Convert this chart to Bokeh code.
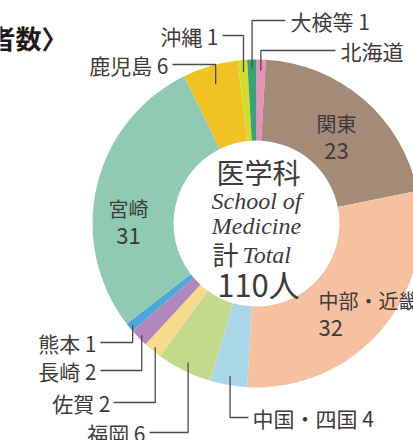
import numpy as np
from bokeh.plotting import figure
from bokeh.models import Range1d, ColumnDataSource
from bokeh.core.properties import value
from bokeh.embed import file_html
from bokeh.resources import INLINE

# ---- data ----
regions = ["北海道", "関東", "中部・近畿", "中国・四国", "福岡", "佐賀", "長崎", "熊本",
           "宮崎", "鹿児島", "沖縄", "大検等"]
counts = [1, 23, 32, 4, 6, 2, 2, 1, 31, 6, 1, 1]
colors = ["#EA8FBA", "#A38B78", "#F5C1A0", "#A9D7E8", "#C3DA8E", "#F8DA8C", "#B088BD",
          "#4EA6D9", "#90CAB3", "#F0C224", "#D3DC2D", "#3AA274"]
center_title = "医学科"
center_en1 = "School of"
center_en2 = "Medicine"
total_jp = "計"
total_en = "Total"
total_unit = "人"
title_text = "者数〉"

W, H = 413, 440
CX, CY = 256, 223          # pixel centre (y downwards)
R_OUT, R_IN = 164, 83
INK = "#3e3a39"
LINE = "#4a4a4a"
JP = value("Noto Sans CJK JP")
SERIF = value("Liberation Serif")


def Y(py):
    return H - py


total = sum(counts)
frac = np.array(counts) / total
cum = np.concatenate([[0], np.cumsum(frac)]) * 360.0   # clockwise from top, degrees
th1, th2 = cum[:-1], cum[1:]
mid = (th1 + th2) / 2

src = ColumnDataSource(dict(
    start=np.radians(90 - th1), end=np.radians(90 - th2), color=colors, region=regions,
))

p = figure(width=W, height=H, x_range=Range1d(0, W), y_range=Range1d(0, H),
           x_axis_type=None, y_axis_type=None, output_backend="svg",
           toolbar_location=None, min_border=0, outline_line_color=None,
           background_fill_color="white", border_fill_color="white")
p.grid.visible = False

p.annular_wedge(x=CX, y=Y(CY), inner_radius=R_IN, outer_radius=R_OUT,
                start_angle="start", end_angle="end", direction="clock",
                fill_color="color", line_color=None, source=src)

# ---- leader-line labels: (region index, anchor radius, label y, horizontal end x, text x, align) ----
leaders = [
    (0, 153, 50, 335, 340, "left"),
    (11, 155, 20, 285, 290, "left"),
    (10, 152, 35, 222, 218, "right"),
    (9, 145, 64, 172, 168, "right"),
    (7, 160, 342, 100, 96, "right"),
    (6, 160, 370, 100, 96, "right"),
    (5, 160, 402, 113, 110, "right"),
    (4, 155, 432, 149, 145, "right"),
    (3, 155, 417, 248, 252, "left"),
]
for idx, r, ly, hx, tx, align in leaders:
    a = np.radians(mid[idx])
    ax = CX + r * np.sin(a)
    ay = CY - r * np.cos(a)
    p.line(x=[ax, ax, hx], y=[Y(ay), Y(ly), Y(ly)], line_color=LINE, line_width=1.3)
    label = regions[idx] if regions[idx] == "北海道" else f"{regions[idx]} {counts[idx]}"
    p.text(x=[tx], y=[Y(ly)], text=[label], text_font=JP, text_font_size="21px",
           text_color=INK, text_align=align, text_baseline="middle")

# ---- in-slice labels: (index, x, y, align) ----
inside = [(1, 336, 123, "center"), (2, 318, 300, "left"), (8, 128, 208, "center")]
for idx, x, y, align in inside:
    p.text(x=[x], y=[Y(y)], text=[regions[idx]], text_font=JP, text_font_size="20px",
           text_color=INK, text_align=align, text_baseline="middle")
    p.text(x=[x], y=[Y(y + 27)], text=[str(counts[idx])], text_font=JP, text_font_size="22px",
           text_color=INK, text_align=align, text_baseline="middle")

# ---- centre text ----
p.text(x=[CX + 2], y=[Y(171)], text=[center_title], text_font=JP, text_font_size="28px",
       text_color=INK, text_align="center", text_baseline="middle")
p.text(x=[CX], y=[Y(200)], text=[center_en1], text_font=SERIF, text_font_size="24px",
       text_font_style="italic", text_color=INK, text_align="center", text_baseline="middle")
p.text(x=[CX], y=[Y(225)], text=[center_en2], text_font=SERIF, text_font_size="24px",
       text_font_style="italic", text_color=INK, text_align="center", text_baseline="middle")
p.text(x=[238], y=[Y(253)], text=[total_jp], text_font=JP, text_font_size="26px",
       text_color=INK, text_align="right", text_baseline="middle")
p.text(x=[242], y=[Y(254)], text=[total_en], text_font=SERIF, text_font_size="24px",
       text_font_style="italic", text_color=INK, text_align="left", text_baseline="middle")
p.text(x=[CX + 2], y=[Y(283)], text=[f"{total}{total_unit}"], text_font=JP,
       text_font_size="31px", text_color=INK, text_align="center", text_baseline="middle")

# ---- cut-off title ----
p.text(x=[67], y=[Y(37)], text=[title_text], text_font=JP, text_font_size="26px",
       text_font_style="bold", text_color="#231815", text_align="right",
       text_baseline="middle")

open("out.html", "w").write(file_html(p, INLINE))
